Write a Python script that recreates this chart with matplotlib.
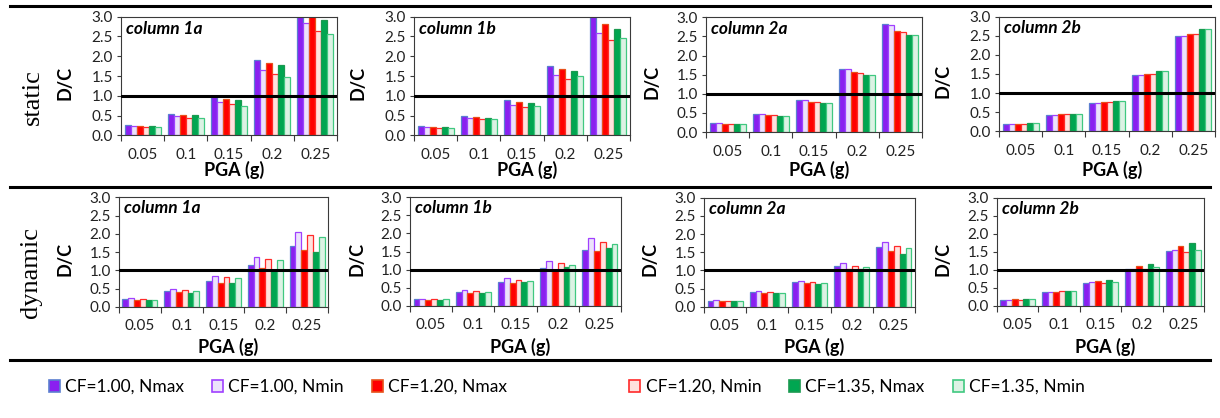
import matplotlib
matplotlib.use("Agg")
import matplotlib.pyplot as plt
from matplotlib.patches import Patch
from matplotlib.lines import Line2D
import numpy as np

plt.rcParams['font.family'] = ['Lato', 'DejaVu Sans']

# ---------------- data ----------------
pga_labels = ["0.05", "0.1", "0.15", "0.2", "0.25"]
series_names = ["CF=1.00, Nmax", "CF=1.00, Nmin", "CF=1.20, Nmax",
                "CF=1.20, Nmin", "CF=1.35, Nmax", "CF=1.35, Nmin"]
panel_titles = ["column 1a", "column 1b", "column 2a", "column 2b"]
row_labels = ["static", "dynamic"]
yticks = [0.0, 0.5, 1.0, 1.5, 2.0, 2.5, 3.0]
limit_value = 1.0

static_1a = [
    [0.25, 0.55, 0.98, 1.90, 3.10],
    [0.23, 0.49, 0.83, 1.64, 2.83],
    [0.24, 0.52, 0.92, 1.82, 3.05],
    [0.22, 0.45, 0.78, 1.56, 2.65],
    [0.23, 0.51, 0.90, 1.78, 2.91],
    [0.21, 0.44, 0.75, 1.48, 2.55],
]
static_1b = [
    [0.23, 0.50, 0.89, 1.76, 2.98],
    [0.20, 0.44, 0.76, 1.52, 2.60],
    [0.21, 0.46, 0.84, 1.68, 2.81],
    [0.19, 0.40, 0.72, 1.42, 2.41],
    [0.21, 0.45, 0.81, 1.62, 2.70],
    [0.18, 0.41, 0.75, 1.49, 2.47],
]
static_2a = [
    [0.24, 0.48, 0.84, 1.65, 2.82],
    [0.24, 0.48, 0.84, 1.65, 2.81],
    [0.22, 0.45, 0.78, 1.56, 2.63],
    [0.22, 0.45, 0.78, 1.55, 2.62],
    [0.20, 0.43, 0.75, 1.48, 2.54],
    [0.20, 0.43, 0.75, 1.48, 2.54],
]
static_2b = [
    [0.18, 0.42, 0.74, 1.47, 2.50],
    [0.18, 0.42, 0.74, 1.47, 2.50],
    [0.20, 0.44, 0.76, 1.49, 2.55],
    [0.20, 0.44, 0.76, 1.49, 2.55],
    [0.22, 0.46, 0.80, 1.58, 2.69],
    [0.22, 0.46, 0.80, 1.58, 2.69],
]
dynamic_1a = [
    [0.21, 0.44, 0.72, 1.14, 1.67],
    [0.24, 0.49, 0.85, 1.38, 2.04],
    [0.20, 0.40, 0.67, 1.07, 1.55],
    [0.22, 0.47, 0.81, 1.31, 1.97],
    [0.18, 0.39, 0.65, 1.02, 1.50],
    [0.20, 0.45, 0.78, 1.28, 1.92],
]
dynamic_1b = [
    [0.18, 0.38, 0.65, 1.03, 1.53],
    [0.19, 0.43, 0.76, 1.24, 1.87],
    [0.17, 0.35, 0.62, 0.99, 1.51],
    [0.18, 0.41, 0.72, 1.18, 1.77],
    [0.15, 0.36, 0.65, 1.07, 1.60],
    [0.18, 0.39, 0.69, 1.14, 1.71],
]
dynamic_2a = [
    [0.17, 0.40, 0.68, 1.11, 1.63],
    [0.18, 0.42, 0.72, 1.19, 1.77],
    [0.17, 0.38, 0.64, 1.04, 1.53],
    [0.17, 0.40, 0.68, 1.11, 1.68],
    [0.16, 0.37, 0.63, 1.03, 1.44],
    [0.16, 0.38, 0.65, 1.08, 1.61],
]
dynamic_2b = [
    [0.16, 0.37, 0.63, 1.02, 1.51],
    [0.16, 0.38, 0.65, 1.02, 1.56],
    [0.18, 0.39, 0.68, 1.10, 1.65],
    [0.17, 0.40, 0.64, 1.02, 1.49],
    [0.18, 0.41, 0.71, 1.15, 1.74],
    [0.18, 0.40, 0.67, 1.07, 1.56],
]

# ---------------- style ----------------
fill_colors = ["#8a1ff0", "#ece2fb", "#ff0000", "#ffe2de", "#00a651", "#dcf2e4"]
edge_colors = ["#5b7fd0", "#a040ff", "#e8501a", "#ff2a2a", "#1a9a50", "#40c880"]

W, H = 1220, 418
fig = plt.figure(figsize=(W / 100, H / 100), dpi=100)

# pixel boxes (left, top, right, bottom)
boxes = [
    [(121, 16.7, 337, 135.3), (414, 16.7, 630, 135.3), (706, 17.3, 922, 132), (999, 16.7, 1215, 131.3)],
    [(119, 197.3, 328, 307), (410, 197.3, 621, 305.7), (704, 197.7, 915, 306.7), (997, 197.7, 1204, 305.7)],
]
panel_data = [[static_1a, static_1b, static_2a, static_2b],
              [dynamic_1a, dynamic_1b, dynamic_2a, dynamic_2b]]
dc_x = [[65, 358, 652, 943], [65, 357, 650, 943]]
pga_y = [170, 347]

spine_col = "#3a3a3a"
x = np.arange(len(pga_labels))
nser = len(series_names)
bw = 0.139

for r in range(2):
    for c in range(4):
        l, t, rr, b = boxes[r][c]
        ax = fig.add_axes([l / W, 1 - b / H, (rr - l) / W, (b - t) / H])
        vals = panel_data[r][c]
        for i in range(nser):
            ax.bar(x + (i - (nser - 1) / 2) * bw, vals[i], width=bw,
                   color=fill_colors[i], edgecolor=edge_colors[i],
                   linewidth=0.9, zorder=2)
        ax.axhline(limit_value, color="black", lw=2.2, zorder=3)
        ax.set_xlim(-0.5, len(pga_labels) - 0.5)
        ax.set_ylim(0, 3)
        ax.set_yticks(yticks)
        ax.set_yticklabels([f"{v:.1f}" for v in yticks], fontsize=11, color="#222222")
        ax.set_xticks(np.arange(-0.5, len(pga_labels), 1.0))
        ax.set_xticklabels([])
        ax.set_xticks(x, minor=True)
        ax.set_xticklabels(pga_labels, minor=True, fontsize=11, color="#222222")
        ax.tick_params(axis="x", which="major", length=4.5, width=0.8, color=spine_col, direction="out")
        ax.tick_params(axis="x", which="minor", length=0, pad=9)
        ax.tick_params(axis="y", length=3, width=0.8, color=spine_col, pad=3)
        for s in ax.spines.values():
            s.set_color(spine_col)
            s.set_linewidth(0.8)
        ax.text(0.025, 0.9, panel_titles[c], transform=ax.transAxes,
                fontsize=12.5, fontweight="bold", style="italic", va="center", ha="left")
        fig.text(dc_x[r][c] / W, 1 - ((t + b) / 2 + 7) / H, "D/C", rotation=90,
                 fontsize=13, fontweight="bold", ha="center", va="center")
        fig.text(((l + rr) / 2 + 5) / W, 1 - pga_y[r] / H, "PGA (g)",
                 fontsize=13, fontweight="bold", ha="center", va="center")

fig.text(33 / W, 1 - 97 / H, row_labels[0], rotation=90, fontsize=19,
         family="Liberation Serif", ha="center", va="center")
fig.text(31 / W, 1 - 273 / H, row_labels[1], rotation=90, fontsize=19,
         family="Liberation Serif", ha="center", va="center")

# horizontal rules
for yy in [6, 187, 360]:
    fig.add_artist(Line2D([10 / W, 1210 / W], [1 - yy / H, 1 - yy / H],
                          color="black", lw=2.2, transform=fig.transFigure))

handles = [Patch(facecolor=fill_colors[i], edgecolor=edge_colors[i], linewidth=1.2,
                 label=series_names[i]) for i in range(nser)]
for grp, cx in [(0, 278), (1, 857)]:
    hs = handles[grp * 3:(grp + 1) * 3]
    fig.legend(handles=hs, loc="center", bbox_to_anchor=(cx / W, 1 - 387 / H),
               ncol=3, frameon=False, fontsize=12.5, handlelength=0.65, handleheight=0.65,
               handletextpad=0.3, columnspacing=1.6, borderpad=0, borderaxespad=0)

fig.savefig("out.png", dpi=100)
